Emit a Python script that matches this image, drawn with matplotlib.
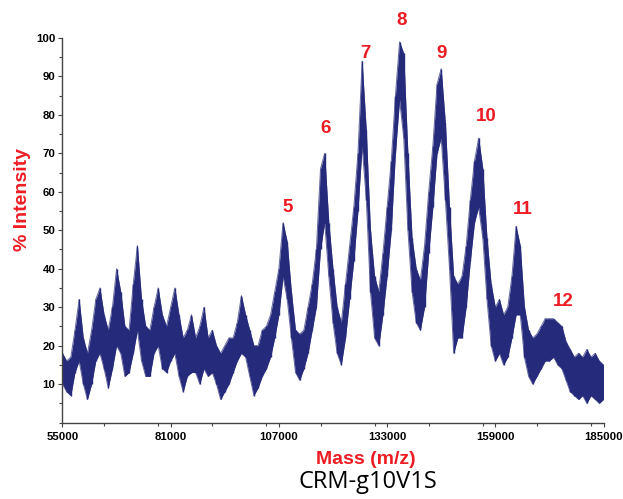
import numpy as np
import matplotlib.pyplot as plt
from matplotlib.ticker import MultipleLocator

# spectrum envelope, sampled every 1000 Da (low / high intensity per bin)
mass = np.arange(55000, 185001, 1000)
low = [10, 8, 7, 13, 16, 10, 6, 10, 16, 18,
       14, 9, 14, 20, 18, 12, 13, 18, 24, 16,
       12, 12, 18, 20, 14, 13, 16, 18, 12, 8,
       12, 13, 13, 10, 14, 12, 13, 10, 6, 8,
       10, 13, 16, 18, 17, 12, 7, 9, 12, 14,
       17, 22, 28, 38, 32, 22, 13, 11, 14, 18,
       24, 30, 45, 52, 38, 26, 18, 15, 22, 32,
       42, 55, 72, 58, 34, 22, 20, 28, 38, 50,
       70, 84, 74, 50, 34, 26, 24, 30, 44, 56,
       70, 74, 58, 40, 18, 22, 22, 30, 42, 52,
       56, 48, 32, 20, 16, 18, 15, 17, 22, 28,
       28, 17, 12, 10, 12, 14, 16, 16, 17, 15,
       14, 11, 8, 7, 6, 7, 5, 7, 6, 5,
       6]
high = [18, 16, 17, 24, 32, 22, 18, 24, 32, 35,
        28, 24, 30, 40, 34, 25, 24, 36, 46, 32,
        25, 24, 30, 35, 28, 25, 30, 35, 28, 22,
        24, 28, 22, 25, 30, 22, 24, 20, 18, 20,
        22, 22, 26, 33, 28, 24, 20, 20, 24, 25,
        28, 34, 40, 52, 47, 34, 24, 23, 24, 30,
        36, 45, 66, 70, 52, 40, 30, 26, 36, 46,
        56, 70, 94, 76, 50, 38, 34, 44, 56, 68,
        85, 99, 96, 70, 48, 40, 37, 46, 60, 72,
        88, 92, 78, 56, 38, 36, 38, 46, 58, 68,
        74, 66, 48, 36, 30, 32, 28, 30, 38, 51,
        46, 30, 24, 22, 23, 25, 27, 27, 27, 26,
        25, 21, 19, 17, 18, 17, 19, 17, 18, 16,
        15]

# charge-state annotations
peak_labels = ["5", "6", "7", "8", "9", "10", "11", "12"]
peak_mass = [109200, 118300, 127700, 136600, 146200, 156800, 165700, 175300]
peak_height = [56.0, 76.5, 96.0, 104.5, 96.0, 79.5, 55.5, 31.5]

navy = "#262a7a"
red = "#ed1c24"

fig = plt.figure(figsize=(6.23, 4.99), dpi=100)
ax = fig.add_axes([0.1003, 0.1533, 0.8684, 0.7705])

low = np.array(low, dtype=float)
high = np.array(high, dtype=float)

# noisy trace shown as the band between bin minima and maxima
ax.fill_between(mass, low, high, color=navy, lw=0)
ax.plot(mass, low, color=navy, lw=0.7, alpha=0.7)
ax.plot(mass, high, color=navy, lw=0.7, alpha=0.7)
ax.vlines(mass, low, high, color=navy, lw=1.0)

for lab, m, h in zip(peak_labels, peak_mass, peak_height):
    ax.text(m, h, lab, color=red, fontsize=13.5, fontweight="bold",
            family="Liberation Sans", ha="center", va="center",
            clip_on=False)

ax.set_xlim(55000, 185000)
ax.set_ylim(0, 100)
ax.set_xticks(np.arange(55000, 185001, 26000))
ax.xaxis.set_minor_locator(MultipleLocator(13000))
ax.set_yticks(np.arange(10, 101, 10))
ax.yaxis.set_minor_locator(MultipleLocator(5))

for s in ["top", "right"]:
    ax.spines[s].set_visible(False)
for s in ["left", "bottom"]:
    ax.spines[s].set_color("#444444")
    ax.spines[s].set_linewidth(1.0)

ax.tick_params(axis="both", which="major", length=3, width=0.8,
               colors="#444444", labelcolor="black", pad=2)
ax.tick_params(axis="x", which="major", pad=4)
ax.tick_params(axis="both", which="minor", length=2, width=0.8,
               colors="#444444")
for t in ax.get_xticklabels() + ax.get_yticklabels():
    t.set_fontweight("bold")
    t.set_family("Liberation Sans")
    t.set_fontsize(8.2)

ax.set_xlabel("Mass (m/z)", color=red, fontsize=14, fontweight="bold",
              family="Liberation Sans")
ax.set_ylabel("% Intensity", color=red, fontsize=14, fontweight="bold",
              family="Liberation Sans")
ax.xaxis.set_label_coords(0.56, -0.074)
ax.yaxis.set_label_coords(-0.058, 0.579)

fig.text(0.59, 0.034, "CRM-g10V1S", fontsize=17, family="Open Sans",
         ha="center", va="center", color="black")

fig.savefig("out.png", dpi=100)
